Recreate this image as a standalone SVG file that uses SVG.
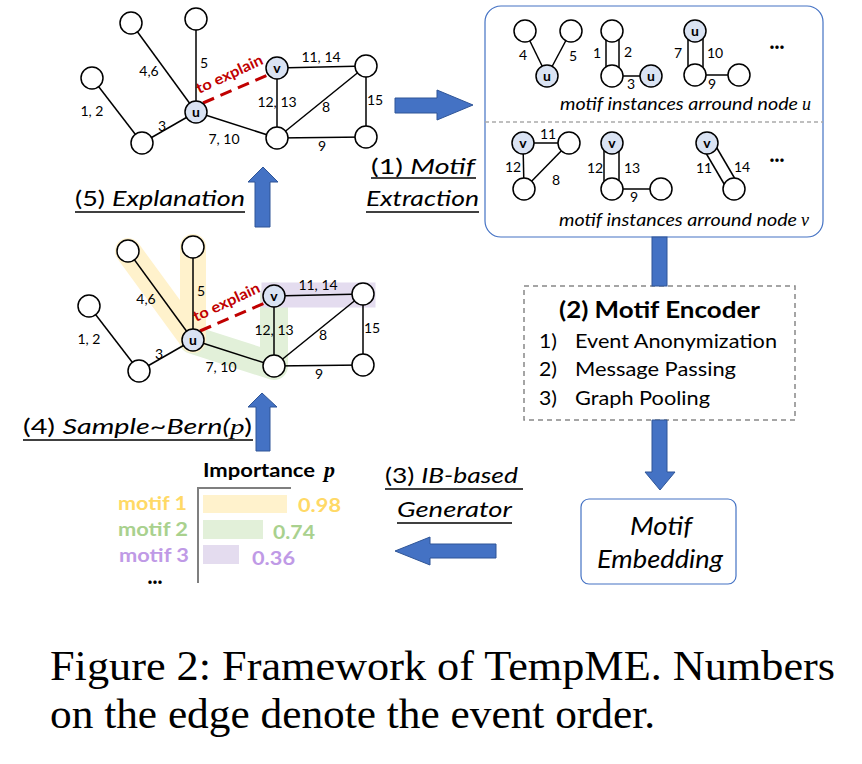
<svg xmlns="http://www.w3.org/2000/svg" width="862" height="764" viewBox="0 0 862 764">
<style>
.e{stroke:#000;stroke-width:1.5;fill:none}
.n{fill:#fff;stroke:#000;stroke-width:1.5}
.h{fill:#DAE3F3;stroke:#000;stroke-width:1.5}
.nl{font-family:Lato,"Liberation Sans",sans-serif;font-weight:bold;font-size:14px;text-anchor:middle;fill:#000}
.el{font-family:Lato,"Liberation Sans",sans-serif;font-size:14px;text-anchor:middle;fill:#000}
.ml{font-family:Lato,"Liberation Sans",sans-serif;font-size:14px;text-anchor:middle;fill:#000}
.lbl{font-family:Lato,"Liberation Sans",sans-serif;font-size:21px;fill:#000}
.it{font-style:italic}
.math{font-family:"Liberation Serif",serif;font-style:italic}
.ul{stroke:#000;stroke-width:1.5}
.arr{fill:#4472C4;stroke:#2F5597;stroke-width:1}
.dots{font-family:Lato,"Liberation Sans",sans-serif;font-weight:bold;font-size:18px;text-anchor:middle}
.cap{font-family:"Liberation Serif",serif;font-size:42px;fill:#000}
.bar{font-family:Lato,"Liberation Sans",sans-serif;font-weight:bold;font-size:19px}
</style>

<!-- Top graph -->
<g id="graph-top">
  <g class="connectors">
    <line class="e" x1="131" y1="23" x2="196" y2="112"/>
    <line class="e" x1="196" y1="19" x2="196" y2="112"/>
    <line class="e" x1="92" y1="78" x2="142" y2="143"/>
    <line class="e" x1="142" y1="143" x2="196" y2="112"/>
    <line class="e" x1="196" y1="112" x2="277" y2="138"/>
    <line class="e" x1="277" y1="68" x2="277" y2="138"/>
    <line class="e" x1="277" y1="68" x2="366" y2="66"/>
    <line class="e" x1="277" y1="138" x2="366" y2="66"/>
    <line class="e" x1="366" y1="66" x2="366" y2="137"/>
    <line class="e" x1="277" y1="138" x2="366" y2="137"/>
    <line x1="203" y1="103" x2="268" y2="75" stroke="#C00000" stroke-width="3" stroke-dasharray="12,7"/>
  </g>
  <g id="t-n1"><circle class="n" cx="131" cy="23" r="11"/></g>
  <g id="t-n2"><circle class="n" cx="196" cy="19" r="11"/></g>
  <g id="t-n3"><circle class="n" cx="92" cy="78" r="11"/></g>
  <g id="t-n4"><circle class="n" cx="142" cy="143" r="11"/></g>
  <g id="t-u"><circle class="h" cx="196" cy="112" r="11"/><text class="nl" x="196" y="117">u</text></g>
  <g id="t-v"><circle class="h" cx="277" cy="68" r="11"/><text class="nl" x="277" y="73">v</text></g>
  <g id="t-n5"><circle class="n" cx="366" cy="66" r="11"/></g>
  <g id="t-n6"><circle class="n" cx="277" cy="138" r="11"/></g>
  <g id="t-n7"><circle class="n" cx="366" cy="137" r="11"/></g>
  <g class="edge-labels">
    <text class="el" x="149" y="76">4,6</text>
    <text class="el" x="204" y="68">5</text>
    <text class="el" x="92" y="116">1, 2</text>
    <text class="el" x="162" y="131">3</text>
    <text class="el" x="224" y="144">7, 10</text>
    <text class="el" x="277" y="107">12, 13</text>
    <text class="el" x="326" y="112">8</text>
    <text class="el" x="321" y="62">11, 14</text>
    <text class="el" x="375" y="105">15</text>
    <text class="el" x="322" y="151">9</text>
  </g>
  <text x="199" y="94" transform="rotate(-25 199 94)" font-family="Lato, 'Liberation Sans', sans-serif" font-weight="bold" font-size="15" textLength="72" lengthAdjust="spacingAndGlyphs" fill="#C00000">to explain</text>
</g>

<!-- Bottom graph (explanation) -->
<g id="graph-bottom" transform="translate(-3,228)">
  <g class="highlights">
    <path d="M277,68 L277,138 L196,112" fill="none" stroke="#E2F0D9" stroke-width="28" stroke-linejoin="round" stroke-linecap="round"/>
    <path d="M131,23 L196,112 L196,19" fill="none" stroke="#FFF2CC" stroke-width="26" stroke-linejoin="round" stroke-linecap="round"/>
    <line x1="277" y1="67" x2="366" y2="67" stroke="#E4DCEF" stroke-width="25" stroke-linecap="square"/>
  </g>
  <g class="connectors">
    <line class="e" x1="131" y1="23" x2="196" y2="112"/>
    <line class="e" x1="196" y1="19" x2="196" y2="112"/>
    <line class="e" x1="92" y1="78" x2="142" y2="143"/>
    <line class="e" x1="142" y1="143" x2="196" y2="112"/>
    <line class="e" x1="196" y1="112" x2="277" y2="138"/>
    <line class="e" x1="277" y1="68" x2="277" y2="138"/>
    <line class="e" x1="277" y1="68" x2="366" y2="66"/>
    <line class="e" x1="277" y1="138" x2="366" y2="66"/>
    <line class="e" x1="366" y1="66" x2="366" y2="137"/>
    <line class="e" x1="277" y1="138" x2="366" y2="137"/>
    <line x1="203" y1="103" x2="268" y2="75" stroke="#C00000" stroke-width="3" stroke-dasharray="12,7"/>
  </g>
  <g id="b-n1"><circle class="n" cx="131" cy="23" r="11"/></g>
  <g id="b-n2"><circle class="n" cx="196" cy="19" r="11"/></g>
  <g id="b-n3"><circle class="n" cx="92" cy="78" r="11"/></g>
  <g id="b-n4"><circle class="n" cx="142" cy="143" r="11"/></g>
  <g id="b-u"><circle class="h" cx="196" cy="112" r="11"/><text class="nl" x="196" y="117">u</text></g>
  <g id="b-v"><circle class="h" cx="277" cy="68" r="11"/><text class="nl" x="277" y="73">v</text></g>
  <g id="b-n5"><circle class="n" cx="366" cy="66" r="11"/></g>
  <g id="b-n6"><circle class="n" cx="277" cy="138" r="11"/></g>
  <g id="b-n7"><circle class="n" cx="366" cy="137" r="11"/></g>
  <g class="edge-labels">
    <text class="el" x="149" y="76">4,6</text>
    <text class="el" x="204" y="68">5</text>
    <text class="el" x="92" y="116">1, 2</text>
    <text class="el" x="162" y="131">3</text>
    <text class="el" x="224" y="144">7, 10</text>
    <text class="el" x="277" y="107">12, 13</text>
    <text class="el" x="326" y="112">8</text>
    <text class="el" x="321" y="62">11, 14</text>
    <text class="el" x="375" y="105">15</text>
    <text class="el" x="322" y="151">9</text>
  </g>
  <text x="199" y="94" transform="rotate(-25 199 94)" font-family="Lato, 'Liberation Sans', sans-serif" font-weight="bold" font-size="15" textLength="72" lengthAdjust="spacingAndGlyphs" fill="#C00000">to explain</text>
</g>

<!-- Motif instances box -->
<g id="motif-box">
  <rect x="485" y="6" width="338" height="231" rx="16" fill="#fff" stroke="#4472C4" stroke-width="1.2"/>
  <line x1="485" y1="122" x2="823" y2="122" stroke="#AAAAAA" stroke-width="1.5" stroke-dasharray="4,3"/>
  <g id="mu1">
    <line class="e" x1="525" y1="31" x2="547" y2="76"/>
    <line class="e" x1="571" y1="31" x2="547" y2="76"/>
    <circle class="n" cx="525" cy="31" r="11"/>
    <circle class="n" cx="571" cy="31" r="11"/>
    <circle class="h" cx="547" cy="76" r="11"/><text class="nl" x="547" y="81">u</text>
    <text class="ml" x="523" y="60">4</text><text class="ml" x="573" y="61">5</text>
  </g>
  <g id="mu2">
    <line class="e" x1="606" y1="31" x2="606" y2="76"/>
    <line class="e" x1="619" y1="31" x2="619" y2="76"/>
    <line class="e" x1="612" y1="76" x2="651" y2="76"/>
    <circle class="n" cx="612" cy="31" r="11"/>
    <circle class="n" cx="612" cy="76" r="11"/>
    <circle class="h" cx="651" cy="76" r="11"/><text class="nl" x="651" y="81">u</text>
    <text class="ml" x="597" y="58">1</text><text class="ml" x="628" y="57">2</text><text class="ml" x="631" y="89">3</text>
  </g>
  <g id="mu3">
    <line class="e" x1="688" y1="31" x2="688" y2="75"/>
    <line class="e" x1="703" y1="31" x2="703" y2="75"/>
    <line class="e" x1="695" y1="75" x2="739" y2="75"/>
    <circle class="h" cx="695" cy="31" r="11"/><text class="nl" x="695" y="36">u</text>
    <circle class="n" cx="695" cy="75" r="11"/>
    <circle class="n" cx="739" cy="75" r="11"/>
    <text class="ml" x="678" y="58">7</text><text class="ml" x="715" y="58">10</text><text class="ml" x="712" y="89">9</text>
  </g>
  <text class="dots" x="777" y="53">···</text>
  <text x="560" y="110" font-family="Lato, 'Liberation Sans', sans-serif" font-size="17" font-style="italic" textLength="238" lengthAdjust="spacingAndGlyphs">motif instances arround node</text>
  <text x="802" y="110" font-family="'Liberation Serif', serif" font-size="18" font-style="italic">u</text>
  <g id="mv1">
    <line class="e" x1="523" y1="143" x2="569" y2="143"/>
    <line class="e" x1="523" y1="143" x2="524" y2="189"/>
    <line class="e" x1="569" y1="143" x2="524" y2="189"/>
    <circle class="h" cx="523" cy="143" r="11"/><text class="nl" x="523" y="148">v</text>
    <circle class="n" cx="569" cy="143" r="11"/>
    <circle class="n" cx="524" cy="189" r="11"/>
    <text class="ml" x="548" y="139">11</text><text class="ml" x="513" y="172">12</text><text class="ml" x="556" y="185">8</text>
  </g>
  <g id="mv2">
    <line class="e" x1="604" y1="143" x2="604" y2="189"/>
    <line class="e" x1="619" y1="143" x2="619" y2="189"/>
    <line class="e" x1="612" y1="189" x2="661" y2="189"/>
    <circle class="h" cx="612" cy="143" r="11"/><text class="nl" x="612" y="148">v</text>
    <circle class="n" cx="612" cy="189" r="11"/>
    <circle class="n" cx="661" cy="189" r="11"/>
    <text class="ml" x="595" y="173">12</text><text class="ml" x="632" y="173">13</text><text class="ml" x="634" y="202">9</text>
  </g>
  <g id="mv3">
    <line class="e" x1="701.8" y1="146" x2="728.8" y2="192"/>
    <line class="e" x1="712.2" y1="140" x2="739.2" y2="186"/>
    <circle class="h" cx="707" cy="143" r="11"/><text class="nl" x="707" y="148">v</text>
    <circle class="n" cx="734" cy="189" r="11"/>
    <text class="ml" x="704" y="173">11</text><text class="ml" x="742" y="172">14</text>
  </g>
  <text class="dots" x="777" y="166">···</text>
  <text x="559" y="226" font-family="Lato, 'Liberation Sans', sans-serif" font-size="17" font-style="italic" textLength="238" lengthAdjust="spacingAndGlyphs">motif instances arround node</text>
  <text x="801" y="226" font-family="'Liberation Serif', serif" font-size="18" font-style="italic">v</text>
</g>

<!-- Motif encoder -->
<g id="encoder">
  <rect x="524" y="286" width="271" height="134" fill="#fff" stroke="#888" stroke-width="1.5" stroke-dasharray="5,4"/>
  <text x="559" y="318" font-family="Lato, 'Liberation Sans', sans-serif" font-weight="bold" font-size="23" textLength="201" lengthAdjust="spacingAndGlyphs">(2) Motif Encoder</text>
  <g font-family="Lato, 'Liberation Sans', sans-serif" font-size="19">
    <text x="539" y="348" textLength="18" lengthAdjust="spacingAndGlyphs">1)</text><text x="575" y="348" textLength="202" lengthAdjust="spacingAndGlyphs">Event Anonymization</text>
    <text x="539" y="376" textLength="18" lengthAdjust="spacingAndGlyphs">2)</text><text x="575" y="376" textLength="161" lengthAdjust="spacingAndGlyphs">Message Passing</text>
    <text x="539" y="405" textLength="18" lengthAdjust="spacingAndGlyphs">3)</text><text x="575" y="405" textLength="135" lengthAdjust="spacingAndGlyphs">Graph Pooling</text>
  </g>
</g>

<!-- Motif embedding -->
<g id="embedding">
  <rect x="581" y="499" width="155" height="85" rx="8" fill="#fff" stroke="#4472C4" stroke-width="1.2"/>
  <text x="630" y="535" font-family="Lato, 'Liberation Sans', sans-serif" font-style="italic" font-size="25" textLength="62" lengthAdjust="spacingAndGlyphs">Motif</text>
  <text x="597" y="568" font-family="Lato, 'Liberation Sans', sans-serif" font-style="italic" font-size="25" textLength="126" lengthAdjust="spacingAndGlyphs">Embedding</text>
</g>

<!-- Importance chart -->
<g id="importance">
  <text class="bar" x="203" y="477" textLength="112" lengthAdjust="spacingAndGlyphs">Importance</text>
  <text x="324" y="477" font-family="'Liberation Serif',serif" font-style="italic" font-weight="bold" font-size="22">p</text>
  <path d="M291,488 L198,488 L198,583" fill="none" stroke="#7F7F7F" stroke-width="2"/>
  <rect x="203" y="495" width="84" height="18" fill="#FFF2CC"/>
  <rect x="203" y="520" width="60" height="19" fill="#E2F0D9"/>
  <rect x="203" y="545" width="36" height="19" fill="#E4DCEF"/>
  <text class="bar" x="118" y="510" textLength="69" lengthAdjust="spacingAndGlyphs" fill="#FFD966">motif 1</text>
  <text class="bar" x="118" y="536" textLength="70" lengthAdjust="spacingAndGlyphs" fill="#A9D18E">motif 2</text>
  <text class="bar" x="119" y="562" textLength="70" lengthAdjust="spacingAndGlyphs" fill="#BF9AE6">motif 3</text>
  <text class="bar" x="298" y="512" textLength="43" lengthAdjust="spacingAndGlyphs" fill="#FFD966">0.98</text>
  <text class="bar" x="273" y="539" textLength="42" lengthAdjust="spacingAndGlyphs" fill="#A9D18E">0.74</text>
  <text class="bar" x="252" y="565" textLength="43" lengthAdjust="spacingAndGlyphs" fill="#BF9AE6">0.36</text>
  <text class="dots" x="155" y="588">···</text>
</g>

<!-- Arrows -->
<g id="connectors">
  <polygon class="arr" points="395,98 437,98 437,90 473,105 437,120 437,113 395,113"/>
  <polygon class="arr" points="255,227 255,182 248,182 263,167 278,182 270,182 270,227"/>
  <polygon class="arr" points="256,451 256,407 248,407 262,393 277,407 270,407 270,451"/>
  <rect class="arr" x="652" y="237" width="15" height="49"/>
  <polygon class="arr" points="652,420 652,472 645,472 660,490 675,472 667,472 667,420"/>
  <polygon class="arr" points="496,544 430,544 430,537 395,551 430,565 430,558 496,558"/>
</g>

<g id="step-labels">
  <text class="lbl" x="371" y="174" textLength="104" lengthAdjust="spacingAndGlyphs">(1) <tspan class="it">Motif</tspan></text>
  <line class="ul" x1="371" y1="178" x2="476" y2="178"/>
  <text class="lbl it" x="366" y="206" textLength="113" lengthAdjust="spacingAndGlyphs">Extraction</text>
  <line class="ul" x1="366" y1="212" x2="479" y2="212"/>
  <text class="lbl" x="75" y="206" textLength="170" lengthAdjust="spacingAndGlyphs">(5) <tspan class="it">Explanation</tspan></text>
  <line class="ul" x1="75" y1="212" x2="245" y2="212"/>
  <text class="lbl" x="23" y="434" textLength="229" lengthAdjust="spacingAndGlyphs">(4) <tspan class="it">Sample~Bern(</tspan><tspan class="math">p</tspan>)</text>
  <line class="ul" x1="23" y1="440" x2="253" y2="440"/>
  <text class="lbl" x="385" y="483" textLength="133" lengthAdjust="spacingAndGlyphs">(3) <tspan class="it">IB-based</tspan></text>
  <line class="ul" x1="385" y1="489" x2="523" y2="489"/>
  <text class="lbl it" x="397" y="517" textLength="115" lengthAdjust="spacingAndGlyphs">Generator</text>
  <line class="ul" x1="397" y1="523" x2="512" y2="523"/>
</g>

<g id="caption">
  <text class="cap" x="50" y="680" textLength="785" lengthAdjust="spacingAndGlyphs">Figure 2: Framework of TempME. Numbers</text>
  <text class="cap" x="50" y="728" textLength="605" lengthAdjust="spacingAndGlyphs">on the edge denote the event order.</text>
</g>
</svg>
